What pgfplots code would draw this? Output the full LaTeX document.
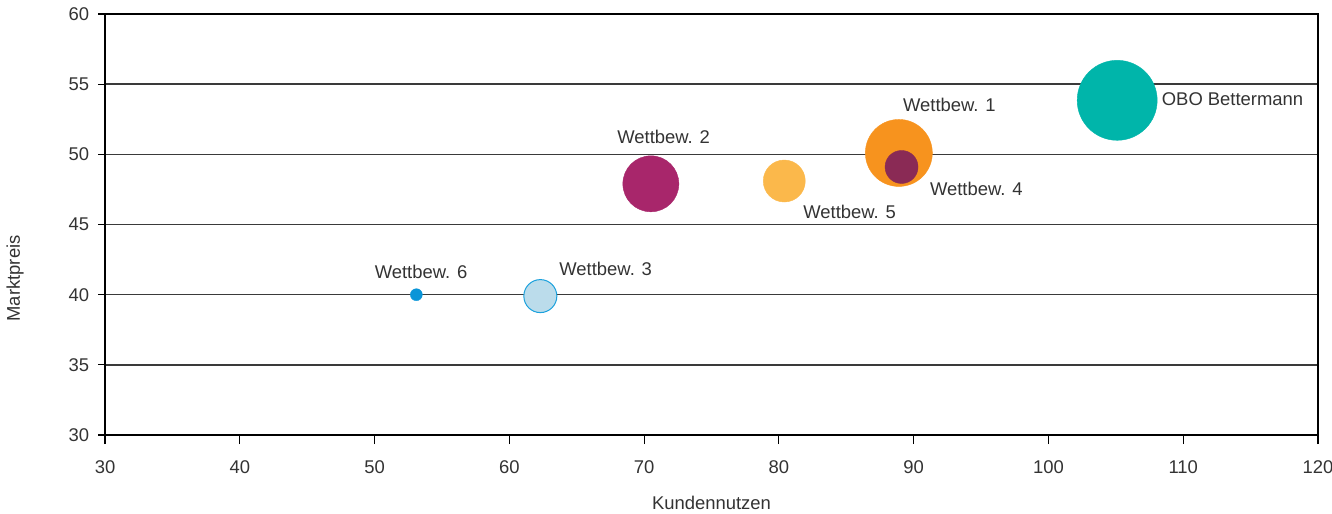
\documentclass[border=0pt]{standalone}
\usepackage{pgfplots}
\pgfplotsset{compat=1.18}
\usepackage{fontspec}
\setmainfont{Liberation Sans}
\definecolor{txt}{HTML}{333333}
\definecolor{gridc}{HTML}{3A3A3A}
\definecolor{cobo}{HTML}{00B5AA}
\definecolor{cw1}{HTML}{F7931E}
\definecolor{cw4}{HTML}{8A2A55}
\definecolor{cw2}{HTML}{A8266B}
\definecolor{cw5}{HTML}{FBB84B}
\definecolor{cw3f}{HTML}{BBDCEB}
\definecolor{cw3e}{HTML}{1BA1DD}
\definecolor{cw6}{HTML}{0A95D8}
\begin{document}
\begin{tikzpicture}[font=\fontsize{18.5}{22}\selectfont]
\begin{axis}[
  name=ax,
  scale only axis,
  width=1213bp, height=421bp,
  xmin=30, xmax=120, ymin=30, ymax=60,
  xtick={30,40,...,120}, ytick={30,35,...,60},
  axis lines=box,
  axis line style={black, line width=1.3bp},
  ymajorgrids,
  grid style={gridc, line width=1.4bp},
  tick align=outside,
  xtick pos=bottom, ytick pos=left,
  tick style={black, line width=1.1bp},
  xtick style={/pgfplots/major tick length=9bp},
  ytick style={/pgfplots/major tick length=7bp},
  /pgf/number format/assume math mode=true,
  ticklabel style={text=txt, font=\fontsize{18.5}{22}\selectfont},
  xticklabel style={yshift=-18bp},
  yticklabel style={xshift=-8bp},
  xlabel={Kundennutzen}, ylabel={Marktpreis},
  xlabel style={at={(axis description cs:0.5,-0.1615)}, anchor=center, text=txt},
  ylabel style={at={(axis description cs:-0.0742,0.372)}, anchor=center, rotate=0, text=txt},
  clip=false,
]
% Wettbew. 6
\addplot[only marks, mark=*, mark size=6bp, mark options={fill=cw6, draw=cw6}] coordinates {(53.1,40.0)};
% Wettbew. 3
\addplot[only marks, mark=*, mark size=16.5bp, mark options={fill=cw3f, draw=cw3e, line width=1bp}] coordinates {(62.3,39.9)};
% Wettbew. 2
\addplot[only marks, mark=*, mark size=28bp, mark options={fill=cw2, draw=cw2}] coordinates {(70.5,47.9)};
% Wettbew. 5
\addplot[only marks, mark=*, mark size=21bp, mark options={fill=cw5, draw=cw5}] coordinates {(80.4,48.1)};
% Wettbew. 1
\addplot[only marks, mark=*, mark size=33.5bp, mark options={fill=cw1, draw=cw1}] coordinates {(88.9,50.1)};
% Wettbew. 4
\addplot[only marks, mark=*, mark size=16.5bp, mark options={fill=cw4, draw=cw4}] coordinates {(89.1,49.1)};
% OBO Bettermann
\addplot[only marks, mark=*, mark size=40bp, mark options={fill=cobo, draw=cobo}] coordinates {(105.1,53.85)};

\node[anchor=west, text=txt, inner sep=0pt] at (axis cs:108.4,53.9) {OBO Bettermann};
\node[anchor=west, text=txt, inner sep=0pt] at (axis cs:89.2,53.5) {Wettbew. 1};
\node[anchor=west, text=txt, inner sep=0pt] at (axis cs:91.2,47.55) {Wettbew. 4};
\node[anchor=west, text=txt, inner sep=0pt] at (axis cs:68.0,51.25) {Wettbew. 2};
\node[anchor=west, text=txt, inner sep=0pt] at (axis cs:81.8,45.9) {Wettbew. 5};
\node[anchor=west, text=txt, inner sep=0pt] at (axis cs:63.7,41.85) {Wettbew. 3};
\node[anchor=west, text=txt, inner sep=0pt] at (axis cs:50.0,41.65) {Wettbew. 6};
\coordinate (bl) at (rel axis cs:0,0);
\coordinate (tr) at (rel axis cs:1,1);
\end{axis}
\pgfresetboundingbox
\path ([shift={(-105bp,-78bp)}]bl) rectangle ([shift={(14bp,14bp)}]tr);
\end{tikzpicture}
\end{document}
